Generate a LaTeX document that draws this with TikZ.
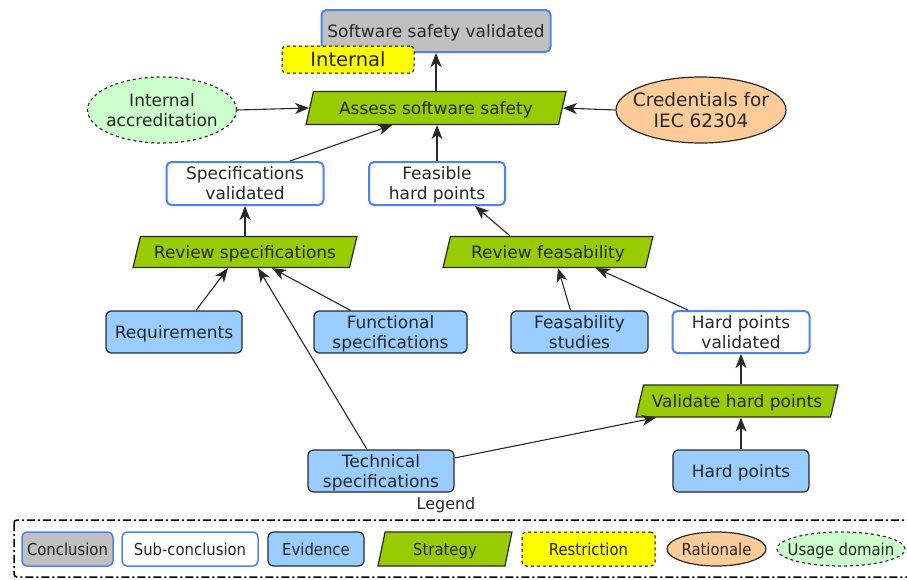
\documentclass[tikz,border=0pt]{standalone}
\usepackage{fontspec}
\setmainfont{DejaVu Sans}
\newfontfamily\legfont{DejaVu Sans Condensed}
\usetikzlibrary{shapes.geometric,arrows.meta}
\definecolor{cblue}{RGB}{80,130,240}
\definecolor{cgray}{RGB}{192,192,192}
\definecolor{evfill}{RGB}{153,204,255}
\definecolor{stfill}{RGB}{153,204,0}
\definecolor{rsfill}{RGB}{255,255,0}
\definecolor{rafill}{RGB}{255,204,153}
\definecolor{usfill}{RGB}{204,255,204}
\definecolor{edge}{RGB}{40,40,40}
\tikzset{
  base/.style={font=\fontsize{17}{20}\selectfont, align=center, inner sep=0pt, text depth=0pt, text=black!85},
  concl/.style={base, rectangle, rounded corners=5pt, draw=cblue, line width=2pt, fill=cgray},
  subc/.style={base, rectangle, rounded corners=5pt, draw=cblue, line width=2pt, fill=white},
  evid/.style={base, rectangle, rounded corners=5pt, draw=edge, line width=1.2pt, fill=evfill},
  strat/.style={base, trapezium, trapezium left angle=60, trapezium right angle=120, trapezium stretches body, draw=edge, line width=1.2pt, fill=stfill},
  restr/.style={base, rectangle, rounded corners=4pt, draw=black, dashed, line width=1pt, fill=rsfill},
  ratio/.style={base, ellipse, inner xsep=-8pt, draw=edge, line width=1.2pt, fill=rafill},
  usage/.style={base, ellipse, inner xsep=-8pt, draw=black!80, dashed, line width=1.2pt, fill=usfill},
  leg/.style={font=\legfont\fontsize{16.5}{18}\selectfont},
  arr/.style={-{Stealth[length=14pt,width=11pt,inset=4pt]}, draw=edge, line width=1.1pt},
}
\begin{document}
\begin{tikzpicture}[x=1pt,y=-1pt]
\useasboundingbox (0,0) rectangle (907,579);
% conclusion and restriction
\node[concl, minimum width=229, minimum height=42] (C) at (436,31) {Software safety validated};
\node[restr, font=\fontsize{19.5}{22}\selectfont, minimum width=132, minimum height=27] (R) at (348,59.5) {Internal};
% strategy
\node[strat, minimum width=260, minimum height=33] (A) at (436,108) {Assess software safety};
\node[usage, minimum width=149, minimum height=66] (IA) at (162,110) {Internal\\accreditation};
\node[ratio, font=\fontsize{18.5}{21}\selectfont, minimum width=170, minimum height=66] (CR) at (701,110) {Credentials for\\IEC 62304};
% sub-conclusions
\node[subc, minimum width=157, minimum height=43] (SV) at (245,183.5) {Specifications\\validated};
\node[subc, minimum width=136, minimum height=43] (FH) at (437,183.5) {Feasible\\hard points};
\node[strat, minimum width=224, minimum height=31] (RS) at (245,252) {Review specifications};
\node[strat, minimum width=210, minimum height=31] (RF) at (548,252) {Review feasability};
% evidences
\node[evid, minimum width=136, minimum height=42] (REQ) at (174,332) {Requirements};
\node[evid, minimum width=153, minimum height=42] (FS) at (390.5,332) {Functional\\specifications};
\node[evid, minimum width=137, minimum height=42] (FES) at (579.5,332) {Feasability\\studies};
\node[subc, minimum width=137, minimum height=42] (HV) at (741,332) {Hard points\\validated};
\node[strat, minimum width=202, minimum height=32] (VH) at (737,401) {Validate hard points};
\node[evid, minimum width=146, minimum height=42] (TS) at (381,471) {Technical\\specifications};
\node[evid, minimum width=136, minimum height=42] (HP) at (741,471) {Hard points};
% connectors
\draw[arr] (A.north) -- (A.north|-C.south);
\draw[arr] (IA.east) -- (A.west);
\draw[arr] (CR.west) -- (A.east);
\draw[arr] ([xshift=45pt]SV.north) -- ([xshift=-44pt]A.south);
\draw[arr] (FH.north) -- (FH.north|-A.south);
\draw[arr] (RS.north) -- (RS.north|-SV.south);
\draw[arr] ([xshift=-38pt]RF.north) -- ([xshift=38pt]FH.south);
\draw[arr] ([xshift=22pt]REQ.north) -- ([xshift=-17pt]RS.south);
\draw[arr] ([xshift=-40pt]FS.north) -- ([xshift=27pt]RS.south);
\draw[arr] ([xshift=-14pt]TS.north) -- ([xshift=13pt]RS.south);
\draw[arr] ([xshift=-9pt]FES.north) -- ([xshift=10pt]RF.south);
\draw[arr] ([xshift=-53pt]HV.north) -- ([xshift=48pt]RF.south);
\draw[arr] (HV.south|-VH.north) -- (HV.south);
\draw[arr] (HP.north) -- (HP.north|-VH.south);
\draw[arr] ([yshift=13pt]TS.east) -- ([xshift=-81pt]VH.south);
% legend
\node[font=\fontsize{16}{18}\selectfont, text=black!85] (LT) at (446,505) {Legend};
\draw[black, line width=1.5pt, rounded corners=3pt, dash pattern=on 8pt off 3pt on 2pt off 3pt] (14,520) rectangle (915,577);
\node[concl, leg, line width=1.5pt, minimum width=91, minimum height=34] (L1) at (67.5,549) {Conclusion};
\node[subc, leg, line width=1.5pt, minimum width=136, minimum height=34] (L2) at (190,549) {Sub-conclusion};
\node[evid, leg, minimum width=96, minimum height=34] (L3) at (316,549) {Evidence};
\node[strat, leg, minimum width=134, minimum height=34] (L4) at (445,549) {Strategy};
\node[restr, leg, minimum width=133, minimum height=34] (L5) at (588.5,549) {Restriction};
\node[ratio, leg, minimum width=99, minimum height=34] (L6) at (716.5,549) {Rationale};
\node[usage, leg, minimum width=128, minimum height=34] (L7) at (841,549) {Usage domain};
\end{tikzpicture}
\end{document}
